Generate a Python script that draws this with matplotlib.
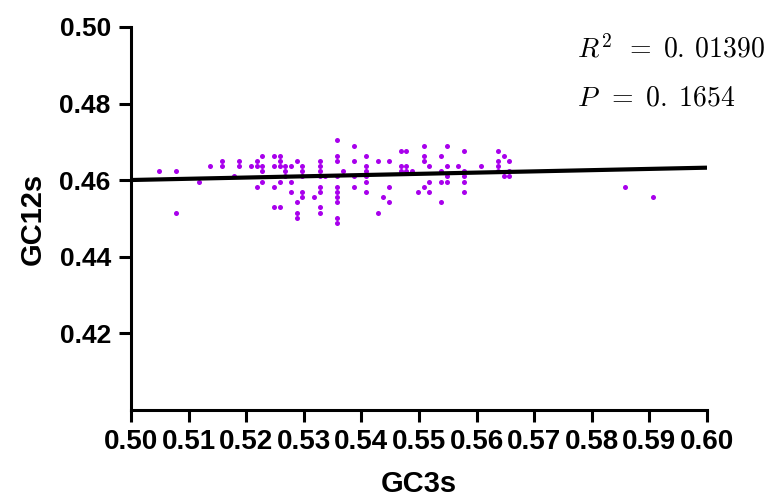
import matplotlib
matplotlib.use("Agg")
import matplotlib.pyplot as plt
import numpy as np

# ---------------------------------------------------------
# DATA
# ---------------------------------------------------------
gc3s = [
    0.5048,
    0.5078, 0.5078,
    0.5118,
    0.5138,
    0.5158, 0.5158,
    0.5178,
    0.5188, 0.5188,
    0.5208,
    0.5218, 0.5218, 0.5218,
    0.5228, 0.5228, 0.5228, 0.5228,
    0.5248, 0.5248, 0.5248, 0.5248,
    0.5258, 0.5258, 0.5258, 0.5258, 0.5258,
    0.5268, 0.5268, 0.5268,
    0.5278, 0.5278, 0.5278,
    0.5288, 0.5288, 0.5288, 0.5288,
    0.5297, 0.5297, 0.5297, 0.5297, 0.5297,
    0.5318,
    0.5328, 0.5328, 0.5328, 0.5328, 0.5328, 0.5328, 0.5328, 0.5328,
    0.5337,
    0.5358, 0.5358, 0.5358, 0.5358, 0.5358, 0.5358, 0.5358, 0.5358, 0.5358, 0.5358,
    0.5368,
    0.5388, 0.5388, 0.5388, 0.5388,
    0.5408, 0.5408, 0.5408, 0.5408, 0.5408, 0.5408,
    0.5428, 0.5428,
    0.5438,
    0.5448, 0.5448, 0.5448,
    0.5468, 0.5468, 0.5468,
    0.5478, 0.5478, 0.5478,
    0.5488,
    0.5498,
    0.5508, 0.5508, 0.5508, 0.5508,
    0.5518, 0.5518, 0.5518,
    0.5538, 0.5538, 0.5538, 0.5538,
    0.5548, 0.5548, 0.5548, 0.5548,
    0.5568,
    0.5578, 0.5578, 0.5578, 0.5578, 0.5578,
    0.5608,
    0.5638, 0.5638, 0.5638, 0.5638,
    0.5648, 0.5648,
    0.5657, 0.5657, 0.5657,
    0.5858,
    0.5907,
]
gc12s = [
    0.4623,
    0.4623, 0.4515,
    0.4596,
    0.4637,
    0.4650, 0.4637,
    0.4610,
    0.4650, 0.4637,
    0.4637,
    0.4650, 0.4637, 0.4583,
    0.4664, 0.4637, 0.4623, 0.4596,
    0.4664, 0.4637, 0.4583, 0.4529,
    0.4664, 0.4650, 0.4637, 0.4596, 0.4529,
    0.4637, 0.4623, 0.4610,
    0.4637, 0.4596, 0.4569,
    0.4650, 0.4542, 0.4515, 0.4501,
    0.4637, 0.4623, 0.4610, 0.4569, 0.4556,
    0.4556,
    0.4650, 0.4637, 0.4623, 0.4610, 0.4583, 0.4569, 0.4529, 0.4515,
    0.4610,
    0.4704, 0.4664, 0.4650, 0.4610, 0.4583, 0.4569, 0.4556, 0.4542, 0.4501, 0.4488,
    0.4623,
    0.4690, 0.4650, 0.4610, 0.4583,
    0.4664, 0.4637, 0.4623, 0.4610, 0.4596, 0.4569,
    0.4650, 0.4515,
    0.4556,
    0.4650, 0.4583, 0.4542,
    0.4677, 0.4637, 0.4623,
    0.4677, 0.4637, 0.4623,
    0.4623,
    0.4569,
    0.4690, 0.4664, 0.4650, 0.4583,
    0.4637, 0.4596, 0.4569,
    0.4664, 0.4623, 0.4596, 0.4542,
    0.4690, 0.4637, 0.4610, 0.4596,
    0.4637,
    0.4677, 0.4623, 0.4610, 0.4596, 0.4569,
    0.4637,
    0.4677, 0.4650, 0.4637, 0.4623,
    0.4664, 0.4610,
    0.4650, 0.4623, 0.4610,
    0.4583,
    0.4556,
]

# regression line end points
fit_x = [0.50, 0.60]
fit_y = [0.46005, 0.46327]

x_ticks = [0.50, 0.51, 0.52, 0.53, 0.54, 0.55, 0.56, 0.57, 0.58, 0.59, 0.60]
y_ticks = [0.42, 0.44, 0.46, 0.48, 0.50]

r2_text = r"$R^2\ \,=\;0.\:01390$"
p_text = r"$P\ \,=\;0.\;1654$"

# ---------------------------------------------------------
# FIGURE
# ---------------------------------------------------------
plt.rcParams["font.family"] = ["Liberation Sans", "DejaVu Sans"]
plt.rcParams["font.weight"] = "bold"
plt.rcParams["mathtext.fontset"] = "cm"

fig = plt.figure(figsize=(7.71, 4.98), dpi=100)
ax = fig.add_axes([131 / 771, 1 - 410 / 498, 576 / 771, 383 / 498])

ax.scatter(gc3s, gc12s, s=13, color="#A800EC", linewidths=0, zorder=3)
ax.plot(fit_x, fit_y, color="black", linewidth=3, zorder=4, solid_capstyle="butt")

ax.set_xlim(0.50, 0.60)
ax.set_ylim(0.40, 0.50)
ax.set_xticks(x_ticks)
ax.set_xticklabels([f"{v:.2f}" for v in x_ticks])
ax.set_yticks(y_ticks)
ax.set_yticklabels([f"{v:.2f}" for v in y_ticks])

for side in ["top", "right"]:
    ax.spines[side].set_visible(False)
for side in ["left", "bottom"]:
    ax.spines[side].set_linewidth(2.2)
    ax.spines[side].set_capstyle("projecting")

ax.tick_params(axis="both", direction="out", length=8.5, width=2.2)
ax.tick_params(axis="x", pad=5, labelsize=20)
ax.tick_params(axis="y", pad=6, labelsize=19)
for lab in ax.get_xticklabels() + ax.get_yticklabels():
    lab.set_fontweight("bold")

ax.set_xlabel("GC3s", fontsize=21, fontweight="bold", labelpad=11)
ax.set_ylabel("GC12s", fontsize=21, fontweight="bold", labelpad=9)

fig.text(577 / 771, 1 - 57 / 498, r2_text, fontsize=20, va="baseline", ha="left")
fig.text(577 / 771, 1 - 105 / 498, p_text, fontsize=20, va="baseline", ha="left")

fig.savefig("out.png", dpi=100)
